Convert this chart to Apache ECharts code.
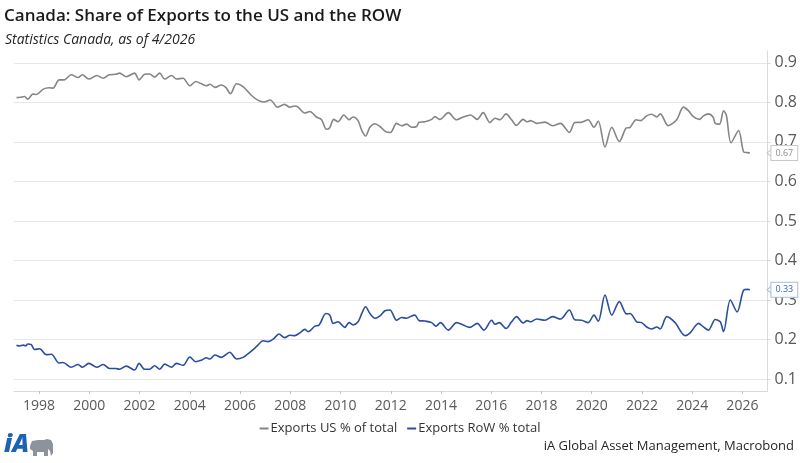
<!DOCTYPE html>
<html>
<head>
<meta charset="utf-8">
<script src="https://cdn.jsdelivr.net/npm/echarts@6/dist/echarts.min.js"></script>
<style>
html,body{margin:0;padding:0;background:#fff;}
#chart{width:800px;height:463px;}
</style>
</head>
<body>
<div id="chart"></div>
<script>
// lectures sur le graphique (annee decimale, part)
var usYears = [1997.1,1997.25,1997.42,1997.55,1997.75,1997.9,1998.15,1998.4,1998.55,1998.8,1999.0,1999.28,1999.55,1999.72,1999.98,
	2000.3,2000.55,2000.8,2001.05,2001.2,2001.47,2001.8,2001.98,2002.2,2002.4,2002.6,2002.8,2003.0,2003.27,2003.47,2003.73,
	2004.0,2004.24,2004.46,2004.66,2004.8,2005.0,2005.26,2005.43,2005.62,2005.86,2006.12,2006.45,2006.72,2006.95,2007.2,2007.5,
	2007.77,2007.98,2008.18,2008.31,2008.58,2008.78,2009.04,2009.24,2009.44,2009.57,2009.73,2009.9,2010.13,2010.34,2010.5,2010.7,
	2010.84,2011.0,2011.17,2011.37,2011.57,2011.8,2011.99,2012.23,2012.43,2012.63,2012.83,2013.03,2013.13,2013.36,2013.63,2013.76,
	2013.96,2014.29,2014.62,2014.88,2015.18,2015.44,2015.68,2015.95,2016.15,2016.35,2016.59,2016.81,2017.0,2017.27,2017.43,2017.57,
	2017.81,2018.14,2018.44,2018.76,2019.11,2019.33,2019.6,2019.86,2020.09,2020.26,2020.53,2020.8,2021.1,2021.37,2021.53,2021.77,
	2021.95,2022.19,2022.39,2022.59,2022.73,2023.05,2023.39,2023.65,2023.85,2024.05,2024.29,2024.45,2024.65,2024.83,2024.92,2025.09,
	2025.25,2025.36,2025.55,2025.85,2026.05,2026.21,2026.3];
var usVals = [0.812,0.813,0.815,0.808,0.821,0.820,0.833,0.837,0.836,0.857,0.857,0.870,0.863,0.870,0.859,
	0.868,0.861,0.870,0.871,0.874,0.865,0.874,0.857,0.871,0.872,0.864,0.874,0.859,0.868,0.859,0.861,
	0.842,0.853,0.847,0.842,0.846,0.838,0.844,0.838,0.822,0.847,0.840,0.818,0.805,0.801,0.806,0.788,
	0.795,0.788,0.791,0.788,0.773,0.777,0.763,0.757,0.732,0.736,0.757,0.751,0.768,0.756,0.763,0.754,
	0.730,0.715,0.737,0.746,0.739,0.726,0.724,0.747,0.741,0.745,0.737,0.739,0.750,0.751,0.757,0.764,
	0.757,0.774,0.756,0.763,0.768,0.757,0.774,0.749,0.760,0.756,0.771,0.756,0.742,0.757,0.751,0.754,
	0.747,0.750,0.741,0.747,0.724,0.749,0.750,0.756,0.737,0.753,0.687,0.737,0.701,0.735,0.737,0.756,
	0.754,0.766,0.770,0.763,0.771,0.741,0.757,0.788,0.779,0.764,0.757,0.766,0.771,0.763,0.747,0.745,
	0.779,0.768,0.698,0.729,0.675,0.673,0.672];

var rowYears = [1997.1,1997.22,1997.38,1997.46,1997.55,1997.69,1997.82,1998.02,1998.29,1998.49,1998.79,1998.95,1999.28,1999.55,1999.72,
	1999.98,2000.3,2000.55,2000.8,2001.05,2001.2,2001.47,2001.8,2001.98,2002.2,2002.4,2002.6,2002.8,2003.0,2003.27,2003.47,
	2003.73,2004.0,2004.24,2004.46,2004.66,2004.8,2005.0,2005.26,2005.59,2005.86,2006.12,2006.39,2006.65,2006.92,2007.12,2007.32,
	2007.55,2007.78,2007.98,2008.18,2008.38,2008.58,2008.71,2008.98,2009.15,2009.42,2009.57,2009.71,2009.9,2010.17,2010.34,2010.5,
	2010.7,2010.84,2011.0,2011.17,2011.37,2011.57,2011.77,2011.97,2012.23,2012.43,2012.63,2012.83,2012.96,2013.13,2013.36,2013.63,
	2013.8,2013.98,2014.29,2014.62,2014.88,2015.14,2015.44,2015.71,2016.02,2016.15,2016.32,2016.59,2016.81,2017.01,2017.27,2017.43,
	2017.57,2017.81,2018.14,2018.44,2018.76,2019.11,2019.33,2019.6,2019.86,2020.09,2020.26,2020.53,2020.8,2021.1,2021.39,2021.53,
	2021.79,2021.99,2022.19,2022.39,2022.59,2022.73,2022.99,2023.32,2023.72,2023.92,2024.12,2024.25,2024.45,2024.65,2024.92,2025.12,
	2025.25,2025.52,2025.79,2026.05,2026.21,2026.3];
var rowVals = [0.186,0.184,0.186,0.184,0.189,0.187,0.175,0.177,0.162,0.163,0.141,0.142,0.130,0.137,0.130,
	0.140,0.130,0.137,0.127,0.127,0.125,0.133,0.123,0.140,0.125,0.125,0.134,0.125,0.138,0.130,0.140,
	0.135,0.156,0.144,0.148,0.154,0.151,0.161,0.155,0.168,0.151,0.155,0.168,0.182,0.197,0.195,0.201,
	0.214,0.205,0.211,0.210,0.217,0.226,0.220,0.234,0.237,0.266,0.262,0.241,0.245,0.231,0.243,0.237,
	0.245,0.265,0.283,0.266,0.254,0.260,0.273,0.275,0.249,0.256,0.254,0.260,0.262,0.248,0.247,0.243,
	0.234,0.243,0.224,0.243,0.237,0.231,0.241,0.224,0.249,0.239,0.243,0.228,0.245,0.258,0.242,0.248,
	0.245,0.252,0.249,0.258,0.252,0.275,0.250,0.249,0.243,0.262,0.246,0.313,0.262,0.296,0.265,0.266,
	0.245,0.243,0.232,0.227,0.232,0.227,0.258,0.243,0.210,0.217,0.234,0.241,0.232,0.224,0.251,0.245,
	0.220,0.300,0.270,0.325,0.327,0.326];

var yearTicks = [1998,2000,2002,2004,2006,2008,2010,2012,2014,2016,2018,2020,2022,2024,2026];
var shareTicks = [0.1,0.2,0.3,0.4,0.5,0.6,0.7,0.8,0.9];

var usName = 'Exports US % of total';
var rowName = 'Exports RoW % total';
var usColor = '#858585';
var rowColor = '#2b4f9e';
var fontFam = '"Open Sans", "Noto Sans", sans-serif';

function pairs(xs, ys){
	var out = [];
	for(var i=0;i<xs.length;i++){
		out.push([xs[i], ys[i]]);
	}
	return out;
}

//etiquette de fin de serie sur l'axe
function endTag(xs, ys, color, border){
	var last = ys[ys.length-1];
	return {
		silent:true,
		symbol:'triangle',
		symbolSize:[8,5],
		symbolRotate:90,
		symbolOffset:[2,0],
		itemStyle:{color:'#fff', borderColor:border, borderWidth:1},
		label:{
			show:true,
			position:'right',
			distance:-1,
			formatter:last.toFixed(2),
			backgroundColor:'#fff',
			borderColor:border,
			borderWidth:1,
			padding:[3,4,2,4],
			fontSize:9,
			fontFamily:fontFam,
			color:color
		},
		data:[{coord:[2027, last], value:last}]
	};
}

var chart = echarts.init(document.getElementById('chart'));
var option = {
	animation:false,
	backgroundColor:'#fff',
	title:[{
		text:'Canada: Share of Exports to the US and the ROW',
		left:4, top:8, padding:0,
		textStyle:{fontSize:17, fontWeight:600, color:'#1a1a1a', fontFamily:fontFam}
	},{
		text:'Statistics Canada, as of 4/2026',
		left:5, top:33, padding:0,
		textStyle:{fontSize:14, fontWeight:'normal', fontStyle:'italic', color:'#262626', fontFamily:fontFam}
	}],
	legend:{
		top:417,
		left:'center',
		itemWidth:9,
		itemHeight:2,
		itemGap:10,
		icon:'rect',
		textStyle:{fontSize:13, color:'#333', fontFamily:fontFam, padding:[0,0,0,-3]},
		data:[usName, rowName]
	},
	grid:{left:14, right:32, top:51, bottom:72, containLabel:false},
	xAxis:{
		type:'value',
		min:1997,
		max:2027,
		axisLine:{show:true, lineStyle:{color:'#d9d9d9'}},
		axisTick:{show:true, length:3, lineStyle:{color:'#bfbfbf'}, customValues:yearTicks},
		axisLabel:{fontSize:14, color:'#595959', margin:8, fontFamily:fontFam, customValues:yearTicks, formatter:function(v){return String(v);}},
		splitLine:{show:false}
	},
	yAxis:{
		type:'value',
		position:'right',
		min:0.07,
		max:0.93,
		axisLine:{show:true, lineStyle:{color:'#d9d9d9'}},
		axisTick:{show:true, length:3, lineStyle:{color:'#d9d9d9'}, customValues:shareTicks},
		axisLabel:{fontSize:16, color:'#595959', margin:7, fontFamily:fontFam, customValues:shareTicks, formatter:function(v){return String(+v.toFixed(1));}},
		splitLine:{show:true, lineStyle:{color:'#e6e6e6'}}
	},
	series:[{
		name:usName,
		type:'line',
		data:pairs(usYears, usVals),
		showSymbol:false,
		smooth:0.3,
		color:usColor,
		lineStyle:{width:1.6, color:usColor},
		markPoint:endTag(usYears, usVals, '#8c8c8c', '#c8c8c8')
	},{
		name:rowName,
		type:'line',
		data:pairs(rowYears, rowVals),
		showSymbol:false,
		smooth:0.3,
		color:rowColor,
		lineStyle:{width:1.6, color:rowColor},
		markPoint:endTag(rowYears, rowVals, '#3a63b0', '#a9bde0')
	}],
	graphic:[{
		type:'text',
		right:6,
		top:440,
		style:{text:'iA Global Asset Management, Macrobond', fill:'#262626', font:'13px "Open Sans", "Noto Sans", sans-serif'}
	},{
		type:'text',
		left:4,
		top:432,
		style:{text:'iA', fill:'#1d63b3', font:'italic 800 25px "Open Sans", "Noto Sans", sans-serif'}
	},{
		type:'polygon',
		left:30,
		top:439,
		shape:{points:[[0,7],[2,2],[8,1],[14,1],[17,0],[21,1],[23,5],[23,14],[21,17],[20,12],[18,10],[18,17],[14,17],[14,13],[7,13],[7,17],[3,17],[3,12],[0,10]]},
		style:{fill:'#8d939b'}
	}]
};
chart.setOption(option);
</script>
</body>
</html>
